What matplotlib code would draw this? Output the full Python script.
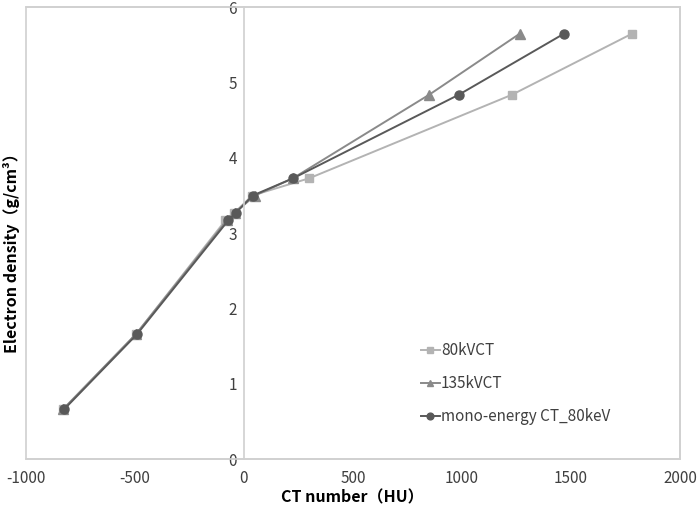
import matplotlib
matplotlib.use("Agg")
import matplotlib.pyplot as plt
from matplotlib.patches import Rectangle

plt.rcParams['font.family'] = ['Noto Sans CJK JP', 'DejaVu Sans']

series_names = ["80kVCT", "135kVCT", "mono-energy CT_80keV"]
y_values = [0.66, 1.66, 3.17, 3.27, 3.50, 3.73, 4.84, 5.65]
x_80kv = [-830, -495, -85, -45, 38, 300, 1230, 1780]
x_135kv = [-830, -495, -78, -42, 50, 225, 850, 1265]
x_mono = [-825, -490, -72, -38, 40, 226, 986, 1468]
x_ticks = [-1000, -500, 0, 500, 1000, 1500, 2000]
y_ticks = [0, 1, 2, 3, 4, 5, 6]

fig = plt.figure(figsize=(6.98, 5.09), dpi=100)
ax = fig.add_axes([0.0372, 0.0982, 0.9370, 0.8874])

styles = [
    dict(color="#b3b3b3", marker="s", ms=6),
    dict(color="#8a8a8a", marker="^", ms=6.5),
    dict(color="#595959", marker="o", ms=6.5),
]
for xs, name, st in zip([x_80kv, x_135kv, x_mono], series_names, styles):
    ax.plot(xs, y_values, color=st["color"], marker=st["marker"], ms=st["ms"],
            lw=1.4, label=name, mec=st["color"], mfc=st["color"])

ax.set_xlim(-1000, 2000)
ax.set_ylim(0, 6)
ax.set_xticks(x_ticks)
ax.set_yticks(y_ticks)
ax.set_xticklabels([str(v) for v in x_ticks])
ax.set_yticklabels([str(v) for v in y_ticks])

border = "#d0d0d0"
for s in ["top", "right", "bottom"]:
    ax.spines[s].set_color(border)
    ax.spines[s].set_linewidth(1.2)
ax.spines["left"].set_position(("data", 0))
ax.spines["left"].set_color(border)
ax.spines["left"].set_linewidth(1.2)
ax.add_patch(Rectangle((0, 0), 1, 1, transform=ax.transAxes, fill=False,
                       ec=border, lw=1.2, clip_on=False, zorder=0))

ax.tick_params(axis="both", length=0, labelsize=11, colors="#404040")
ax.tick_params(axis="x", pad=8)
ax.tick_params(axis="y", pad=5)

fig.text(0.505, 0.022, "CT number（HU）", ha="center", va="center",
         fontsize=11.5, fontweight="bold")
fig.text(0.016, 0.51, "Electron density（g/cm³）", ha="center", va="center",
         rotation=90, fontsize=11.5, fontweight="bold")

leg = ax.legend(loc="upper left", bbox_to_anchor=(0.595, 0.272), frameon=False,
                fontsize=11, handlelength=1.2, handletextpad=0.1,
                labelspacing=1.05, borderaxespad=0, markerscale=0.75)
for t in leg.get_texts():
    t.set_color("#404040")

fig.savefig("out.png", dpi=100)
